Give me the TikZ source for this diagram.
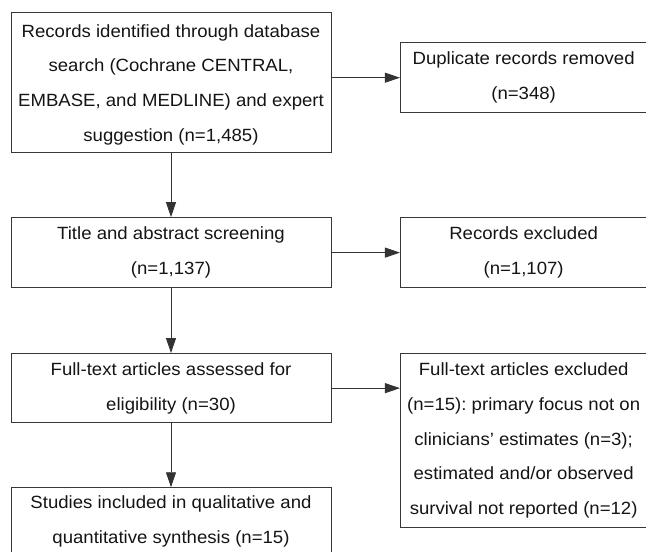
\documentclass[tikz,border=0pt]{standalone}
\usepackage{fontspec}
\setmainfont{Liberation Sans}[FakeStretch=1.05]
\frenchspacing
\usetikzlibrary{arrows.meta,positioning}

\begin{document}
\begin{tikzpicture}[
  x=1pt, y=-1pt,
  font=\fontsize{17.7}{34.7}\selectfont,
  >={Triangle[length=15pt, width=10pt]},
  box/.style={draw=black!78, line width=0.9pt, text=black!92,
              align=center, inner sep=0pt, minimum height=70pt},
  lbox/.style={box, minimum width=320pt},
  rbox/.style={box, minimum width=246.5pt},
  flow/.style={->, draw=black!80, fill=black!80, line width=0.9pt},
  node distance=64.5pt and 68.5pt,
]
\useasboundingbox (0,0) rectangle (646,552);

% ---------- Main column ----------
\node[lbox, minimum height=139.6pt] (recs) at (171,82.5)
  {\rule{0pt}{17pt}Records identified through database\\search (Cochrane CENTRAL,\\EMBASE, and MEDLINE) and expert\\suggestion (n=1,485)};
\node[lbox, below=64.4pt of recs] (screen)
  {Title and abstract screening\\(n=1,137)};
\node[lbox, below=65pt of screen, minimum height=69.3pt] (full)
  {Full-text articles assessed for\\eligibility (n=30)};
\node[lbox, below=64pt of full, minimum height=68pt] (incl)
  {Studies included in qualitative and\\quantitative synthesis (n=15)};

% ---------- Exclusions ----------
\node[rbox, right=68.5pt of screen] (excl)
  {Records excluded\\(n=1,107)};
\node[rbox, above=104pt of excl] (dup)
  {Duplicate records removed\\(n=348)};
\node[rbox, below=65pt of excl, minimum height=174pt] (ftex)
  {Full-text articles excluded\\(n=15): primary focus not on\\clinicians’ estimates (n=3);\\estimated and/or observed\\survival not reported (n=12)};

\draw[flow] (recs)   -- (screen);
\draw[flow] (screen) -- (full);
\draw[flow] (full)   -- (incl);

\draw[flow] (recs.east |- dup) -- (dup);
\draw[flow] (screen) -- (excl);
\draw[flow] (full.east) -- (full.east -| ftex.west);

\end{tikzpicture}
\end{document}
